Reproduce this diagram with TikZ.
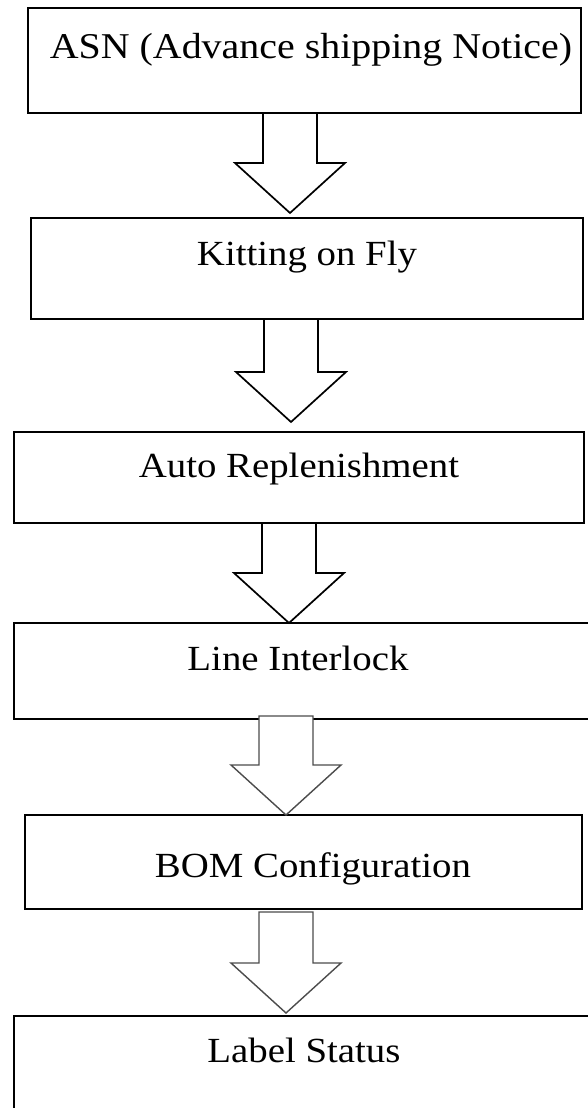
\documentclass[tikz,border=0pt]{standalone}
\usepackage{fontspec}
\setmainfont{Liberation Serif}
\newfontfamily\boxfont[FakeStretch=1.1]{Liberation Serif}
\usetikzlibrary{calc}

% block arrow from a start point on a box bottom to a tip on the next box top
\newcommand\blockarrow[3][]{%
  \draw[blk,#1] let \p1=(#2), \p2=(#3) in
    (\x1-27pt,\y1) -- (\x1-27pt,\y2+50pt) -- (\x1-55pt,\y2+50pt) -- (\x2,\y2)
    -- (\x1+55pt,\y2+50pt) -- (\x1+27pt,\y2+50pt) -- (\x1+27pt,\y1) -- cycle;}

\begin{document}
\begin{tikzpicture}[x=1pt,y=-1pt,
  box/.style={draw=black, line width=2.2pt, rectangle, anchor=north west,
              inner sep=0pt, outer sep=0pt},
  txt/.style={font=\boxfont\fontsize{35.3}{40}\selectfont, anchor=base, inner sep=0pt},
  bigtxt/.style={txt, font=\boxfont\fontsize{36.3}{41}\selectfont},
  blk/.style={draw=black, line width=1.7pt, fill=white, line join=miter},
  soft/.style={draw=black!70, line width=1.4pt}]
\useasboundingbox (0,0) rectangle (587,1108);

% process boxes
\node[box, minimum width=553pt, minimum height=105pt] (b1) at (28,8) {};
\node[box, minimum width=552pt, minimum height=101pt] (b2) at (31,218) {};
\node[box, minimum width=570pt, minimum height=91pt]  (b3) at (14,432) {};
\node[box, minimum width=586pt, minimum height=96pt]  (b4) at (14,623) {};
\node[box, minimum width=557pt, minimum height=94pt]  (b5) at (25,815) {};
\node[box, minimum width=586pt, minimum height=114pt] (b6) at (14,1016) {};

% box captions
\node[bigtxt] (t1) at (311,59) {ASN (Advance shipping Notice)};
\node[txt] (t2) at (307,265)  {Kitting on Fly};
\node[txt] (t3) at (299,477)  {Auto Replenishment};
\node[txt] (t4) at (298,670)  {Line Interlock};
\node[txt] (t5) at (313,877)  {BOM Configuration};
\node[txt] (t6) at (304,1062) {Label Status};

% arrow end points
\coordinate (s1) at (b1.south -| 290,0);
\coordinate (e1) at (290,213);
\coordinate (s2) at (b2.south -| 291,0);
\coordinate (e2) at (291,422);
\coordinate (s3) at (b3.south -| 289,0);
\coordinate (e3) at (289,623);
\coordinate (s4) at (286,716);
\coordinate (e4) at (b5.north -| 286,0);
\coordinate (s5) at (286,912);
\coordinate (e5) at (286,1013);

% flow arrows
\blockarrow{s1}{e1}
\blockarrow{s2}{e2}
\blockarrow{s3}{e3}
\blockarrow[soft]{s4}{e4}
\blockarrow[soft]{s5}{e5}
\end{tikzpicture}
\end{document}
